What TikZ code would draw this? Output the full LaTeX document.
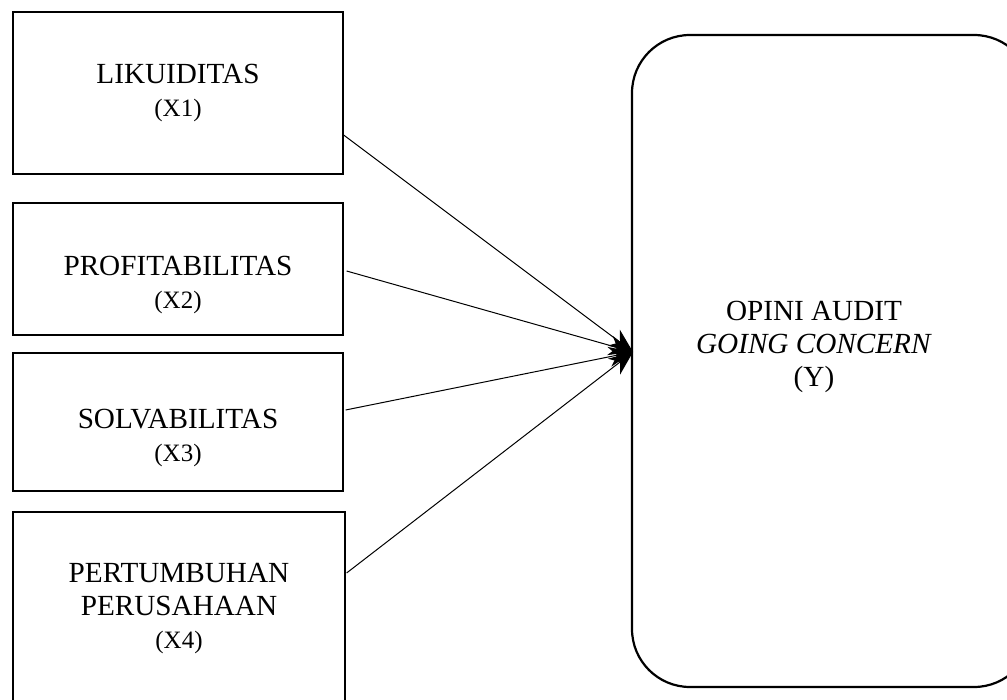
\documentclass[tikz,border=0pt]{standalone}
\usepackage{fontspec}
\setmainfont{Liberation Serif}
\usetikzlibrary{arrows.meta}
\tikzset{
  varbox/.style={draw, line width=0.6pt, inner sep=0pt, minimum width=165pt},
  vartext/.style={align=center, inner sep=0pt, font=\fontsize{14.6}{16.5}\selectfont},
  bigbox/.style={draw, line width=1.1pt, rounded corners=29pt, inner sep=0pt},
  link/.style={line width=0.5pt, -{Stealth[length=12pt,width=10pt]}}
}
\newcommand{\xlab}[1]{{\fontsize{12.5}{14}\selectfont #1}}
\begin{document}
\begin{tikzpicture}[x=0.5pt,y=-0.5pt]
\useasboundingbox (0,0) rectangle (1007,700);
\node[varbox, minimum height=81pt] (b1) at (178,93) {};
\node[varbox, minimum height=66pt] (b2) at (178,269) {};
\node[varbox, minimum height=69pt] (b3) at (178,422) {};
\node[varbox, minimum height=95pt, minimum width=166pt] (b4) at (179,607) {};
\node[vartext] (t1) at (178,93) {LIKUIDITAS\\\xlab{(X1)}};
\node[vartext] (t2) at (178,285) {PROFITABILITAS\\\xlab{(X2)}};
\node[vartext] (t3) at (178,438) {SOLVABILITAS\\\xlab{(X3)}};
\node[vartext] (t4) at (179,609) {PERTUMBUHAN\\PERUSAHAAN\\\xlab{(X4)}};
\node[bigbox, minimum width=200pt, minimum height=326pt] (y) at (832,361) {};
\node[vartext] (ytext) at (814,347) {OPINI AUDIT\\\textit{GOING CONCERN}\\(Y)};
\coordinate (tip) at (633,352);
\draw[link] ([yshift=-21pt]b1.east) -- (tip);
\draw[link] ([yshift=-1pt,xshift=1.5pt]b2.east) -- (tip);
\draw[link] ([yshift=6pt,xshift=1pt]b3.east) -- (tip);
\draw[link] ([yshift=17pt,xshift=0.5pt]b4.east) -- (tip);
\end{tikzpicture}
\end{document}
